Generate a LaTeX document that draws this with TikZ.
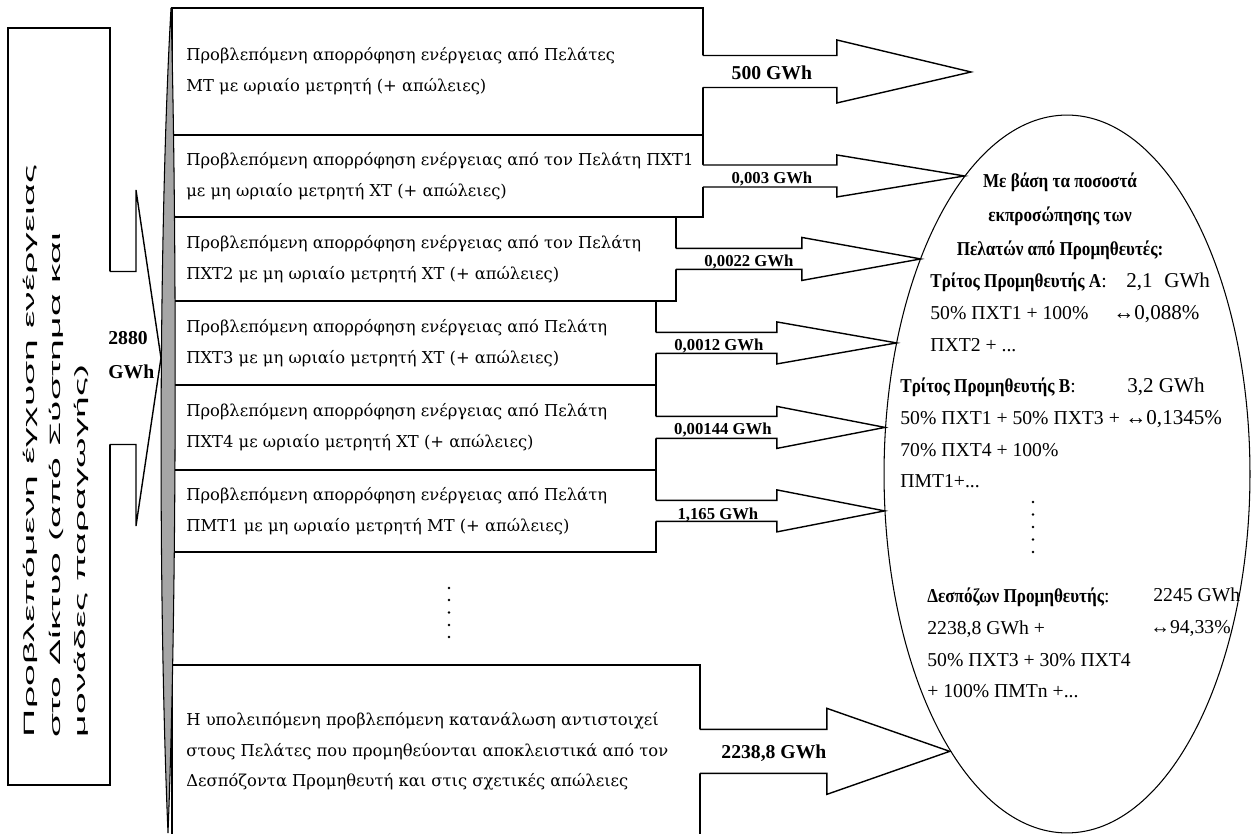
\documentclass[tikz,border=0pt]{standalone}
\usepackage{fontspec}
\setmainfont{Liberation Serif}
\newfontfamily\ellfont[BoldFeatures={FakeStretch=0.87}]{Liberation Serif}
\newfontfamily\boxfont{DejaVu Serif}
\newfontfamily\srcfont[FakeStretch=2.62]{Liberation Sans}
\usetikzlibrary{positioning,shapes.geometric,calc}
\tikzset{rowbox/.style={rectangle, draw=black, line width=0.8pt, outer sep=0pt, inner sep=0pt},
  rowtext/.style={inner sep=0pt, align=left, font=\boxfont\fontsize{9.3}{17.6}\selectfont},
  biglbl/.style={inner sep=0pt, font=\bfseries\fontsize{11.2}{19}\selectfont},
  smalllbl/.style={inner sep=0pt, font=\bfseries\fontsize{9.5}{11}\selectfont},
  elltext/.style={inner sep=0pt, align=left, anchor=north west, font=\ellfont\fontsize{11.2}{18}\selectfont},
  valtext/.style={elltext, font=\ellfont\fontsize{12}{18}\selectfont},
  arrowline/.style={draw=black, line width=0.8pt, line join=miter}
}
% block arrow: start, tip, head base offset, half shaft, half head
\newcommand{\blockarrow}[5]{%
  \fill[white] ($(#1)+(-2,#4)$) -- ($(#1)+(#3,#4)$) -- ($(#1)+(#3,#5)$) -- (#2)
    -- ($(#1)+(#3,-#5)$) -- ($(#1)+(#3,-#4)$) -- ($(#1)+(-2,-#4)$) -- cycle;
  \draw[arrowline] ($(#1)+(0,#4)$) -- ($(#1)+(#3,#4)$) -- ($(#1)+(#3,#5)$) -- (#2)
    -- ($(#1)+(#3,-#5)$) -- ($(#1)+(#3,-#4)$) -- ($(#1)+(0,-#4)$);
}

\begin{document}
\begin{tikzpicture}[x=0.02cm, y=0.02cm]
   \useasboundingbox (0,0) rectangle (1253,834);

   %Source box
   \node (src) [rowbox, minimum width=2.04cm, minimum height=15.14cm] at (59,427.5) {};
   \node (srctxt) [rotate=90, align=left, inner sep=0pt,
   font=\srcfont\fontsize{8.5}{14.7}\selectfont] at (56,383)
   {Προβλεπόμενη έγχυση ενέργειας\\στο Δίκτυο (από Σύστημα και\\μονάδες παραγωγής)};

   %Row boxes
   \node (r1) [rowbox, minimum width=10.62cm, minimum height=2.54cm, anchor=north west] at (172,826) {};
   \node (r2) [rowbox, minimum width=10.62cm, minimum height=1.64cm,
   below=0pt of r1.south west, anchor=north west] {};
   \node (r3) [rowbox, minimum width=10.08cm, minimum height=1.68cm,
   below=0pt of r2.south west, anchor=north west] {};
   \node (r4) [rowbox, minimum width=9.68cm, minimum height=1.68cm,
   below=0pt of r3.south west, anchor=north west] {};
   \node (r5) [rowbox, minimum width=9.68cm, minimum height=1.70cm,
   below=0pt of r4.south west, anchor=north west] {};
   \node (r6) [rowbox, minimum width=9.68cm, minimum height=1.64cm,
   below=0pt of r5.south west, anchor=north west] {};
   \node (r8) [rowbox, minimum width=10.56cm, minimum height=3.46cm,
   below=2.26cm of r6.south west, anchor=north west] {};

   %Row texts
   \node (r1t) [rowtext, right=0.28cm of r1.west]
   {Προβλεπόμενη απορρόφηση ενέργειας από Πελάτες\\ΜΤ με ωριαίο μετρητή (+ απώλειες)};
   \node (r2t) [rowtext, right=0.28cm of r2.west]
   {Προβλεπόμενη απορρόφηση ενέργειας από τον Πελάτη ΠΧΤ1\\με μη ωριαίο μετρητή ΧΤ (+ απώλειες)};
   \node (r3t) [rowtext, right=0.28cm of r3.west]
   {Προβλεπόμενη απορρόφηση ενέργειας από τον Πελάτη\\ΠΧΤ2 με μη ωριαίο μετρητή ΧΤ (+ απώλειες)};
   \node (r4t) [rowtext, right=0.28cm of r4.west]
   {Προβλεπόμενη απορρόφηση ενέργειας από Πελάτη\\ΠΧΤ3 με μη ωριαίο μετρητή ΧΤ (+ απώλειες)};
   \node (r5t) [rowtext, right=0.28cm of r5.west]
   {Προβλεπόμενη απορρόφηση ενέργειας από Πελάτη\\ΠΧΤ4 με ωριαίο μετρητή ΧΤ (+ απώλειες)};
   \node (r6t) [rowtext, right=0.28cm of r6.west]
   {Προβλεπόμενη απορρόφηση ενέργειας από Πελάτη\\ΠΜΤ1 με μη ωριαίο μετρητή ΜΤ (+ απώλειες)};
   \node (r8t) [rowtext, right=0.28cm of r8.west]
   {Η υπολειπόμενη προβλεπόμενη κατανάλωση αντιστοιχεί\\στους Πελάτες που προμηθεύονται αποκλειστικά από τον\\Δεσπόζοντα Προμηθευτή και στις σχετικές απώλειες};
   % dots of the omitted rows
   \fill (449,246) circle (1.3) (449,234) circle (1.3) (449,221.5) circle (1.3)
   (449,209) circle (1.3) (449,197) circle (1.3);

   %Suppliers ellipse
   \node (ell) [ellipse, draw, line width=0.6pt, inner sep=0pt,
   minimum width=7.32cm, minimum height=14.36cm] at (1067,360) {};

   %Arrows
   \coordinate (t500) at (971,762);
   \coordinate (srcout) at ($(src.east)+(0,48.5)$);
   \coordinate (srctip) at (161,476);
   \blockarrow{r1.east}{t500}{134}{16}{31.5}
   \blockarrow{r2.east}{r2.east -| ell.109}{134}{11}{21}
   \blockarrow{r3.east}{r3.east -| ell.124}{126}{10.5}{21.5}
   \blockarrow{r4.east}{r4.east -| ell.142}{121}{10.5}{21}
   \blockarrow{r5.east}{r5.east -| ell.166}{121}{11}{21}
   \blockarrow{r6.east}{r6.east -| ell.192}{121}{10.5}{21}
   \blockarrow{r8.east}{r8.east -| ell.247}{127}{22}{43}
   \blockarrow{srcout}{srctip}{26}{86.5}{168}

   %Collector bar
   \filldraw[fill=black!35, line width=0.6pt] (171,826) .. controls (158.3,600) and (158.3,230) .. (168,1)
   .. controls (177,230) and (177,600) .. (171,826) -- cycle;

   %Arrow labels
   \node (inflow) [biglbl, align=left, anchor=west] at (108,479) {2880\\GWh};
   \node (l1) [biglbl] at ($(r1.east)+(69,-1)$) {500 GWh};
   \node (l2) [smalllbl] at ($(r2.east)+(69,-3)$) {0,003 GWh};
   \node (l3) [smalllbl] at ($(r3.east)+(73,-3)$) {0,0022 GWh};
   \node (l4) [smalllbl] at ($(r4.east)+(63,-3)$) {0,0012 GWh};
   \node (l5) [smalllbl] at ($(r5.east)+(67,-3)$) {0,00144 GWh};
   \node (l6) [smalllbl] at ($(r6.east)+(62,-4)$) {1,165 GWh};
   \node (l8) [biglbl] at ($(r8.east)+(74,-2)$) {2238,8 GWh};

   %Ellipse texts
   \node (hdr) [inner sep=0pt, align=center, font=\ellfont\bfseries\fontsize{11.2}{19.3}\selectfont] at (1060,618)
   {Με βάση τα ποσοστά\\εκπροσώπησης των\\Πελατών από Προμηθευτές:};
   \node (supA) [elltext] at (930,561)
   {\textbf{Τρίτος Προμηθευτής Α}:\\50\% ΠΧΤ1 + 100\%\\ΠΧΤ2 + ...};
   \node (valA) [valtext] at (1113,561) {\hspace*{0.26cm}2,1\hspace{0.3em} GWh\\↔0,088\%};
   \node (supB) [elltext] at (900,456)
   {\textbf{Τρίτος Προμηθευτής Β}:\\50\% ΠΧΤ1 + 50\% ΠΧΤ3 +\\70\% ΠΧΤ4 + 100\%\\ΠΜΤ1+...};
   \node (valB) [valtext] at (1125,456) {\hspace*{0.04cm}3,2 GWh\\↔0,1345\%};
   \fill (1033,332) circle (1.3) (1033,319.5) circle (1.3) (1033,307) circle (1.3)
   (1033,294.5) circle (1.3) (1033,282) circle (1.3);
   \node (dom) [elltext] at (927,246)
   {\textbf{Δεσπόζων Προμηθευτής}:\\2238,8 GWh +\\50\% ΠΧΤ3 + 30\% ΠΧΤ4\\+ 100\% ΠΜΤn +...};
   \node (valD) [elltext] at (1150,246) {\hspace*{0.06cm}2245 GWh\\↔94,33\%};

\end{tikzpicture}
\end{document}
